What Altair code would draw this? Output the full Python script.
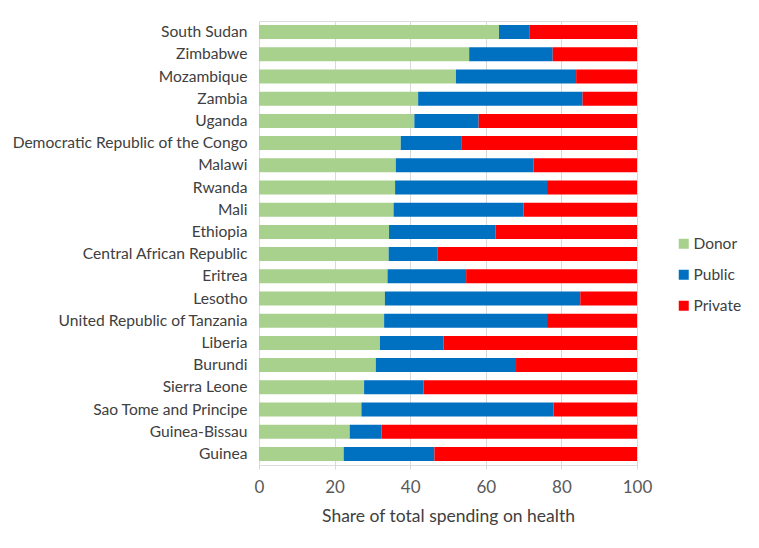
import altair as alt
import pandas as pd

countries = ["South Sudan", "Zimbabwe", "Mozambique", "Zambia", "Uganda",
             "Democratic Republic of the Congo", "Malawi", "Rwanda", "Mali", "Ethiopia",
             "Central African Republic", "Eritrea", "Lesotho", "United Republic of Tanzania",
             "Liberia", "Burundi", "Sierra Leone", "Sao Tome and Principe", "Guinea-Bissau", "Guinea"]
donor = [63.5, 55.6, 52.1, 42.1, 41.1, 37.5, 36.2, 36.0, 35.6, 34.4,
         34.3, 34.0, 33.3, 33.1, 32.0, 30.9, 27.8, 27.1, 24.0, 22.4]
public = [8.0, 22.1, 31.8, 43.5, 17.0, 16.0, 36.4, 40.2, 34.4, 28.2,
          13.0, 20.8, 51.7, 43.1, 16.8, 37.1, 15.7, 50.8, 8.4, 24.0]
private = [28.5, 22.3, 16.1, 14.4, 41.9, 46.5, 27.4, 23.8, 30.0, 37.4,
           52.7, 45.2, 15.0, 23.8, 51.2, 32.0, 56.5, 22.1, 67.6, 53.6]
sources = ["Donor", "Public", "Private"]
colors = ["#A9D18E", "#0070C0", "#FF0000"]

rows = []
for i, c in enumerate(countries):
    for k, (s, v) in enumerate(zip(sources, [donor[i], public[i], private[i]])):
        rows.append({"Country": c, "Source": s, "Value": v, "Order": k})
df = pd.DataFrame(rows)

FONT = "Lato"

chart = alt.Chart(df).mark_bar().encode(
    y=alt.Y("Country:N", sort=countries,
            scale=alt.Scale(paddingInner=0.37, paddingOuter=0.185),
            axis=alt.Axis(title=None, ticks=False, domain=False, labelFontSize=15.6,
                          labelColor="#404040", labelPadding=12, labelFont=FONT,
                          labelLimit=400)),
    x=alt.X("Value:Q", stack="zero",
            scale=alt.Scale(domain=[0, 100], nice=False),
            axis=alt.Axis(title="Share of total spending on health", values=[0, 20, 40, 60, 80, 100],
                          grid=True, gridColor="#D9D9D9", domain=False, ticks=True, tickSize=4,
                          tickColor="#D9D9D9", labelFontSize=17, labelColor="#595959",
                          labelFlush=False,
                          labelPadding=10, titleFontSize=17.5, titleFontWeight="normal",
                          titleColor="#404040", titlePadding=12, labelFont=FONT, titleFont=FONT)),
    color=alt.Color("Source:N", scale=alt.Scale(domain=sources, range=colors),
                    legend=alt.Legend(title=None, orient="none", legendX=417, legendY=215,
                                      symbolType="square", symbolSize=100, symbolStrokeWidth=0,
                                      labelFontSize=15.5, labelColor="#404040", labelFont=FONT,
                                      rowPadding=14, labelOffset=2, padding=0)),
    order=alt.Order("Order:Q"),
).properties(
    width=378, height=444,
    autosize=alt.AutoSizeParams(type="none"),
    padding={"left": 251, "top": 13, "right": 114, "bottom": 70},
).configure_view(stroke=None).configure(background="white")

chart.save("out.html", embed_options={"renderer": "svg", "actions": False})
